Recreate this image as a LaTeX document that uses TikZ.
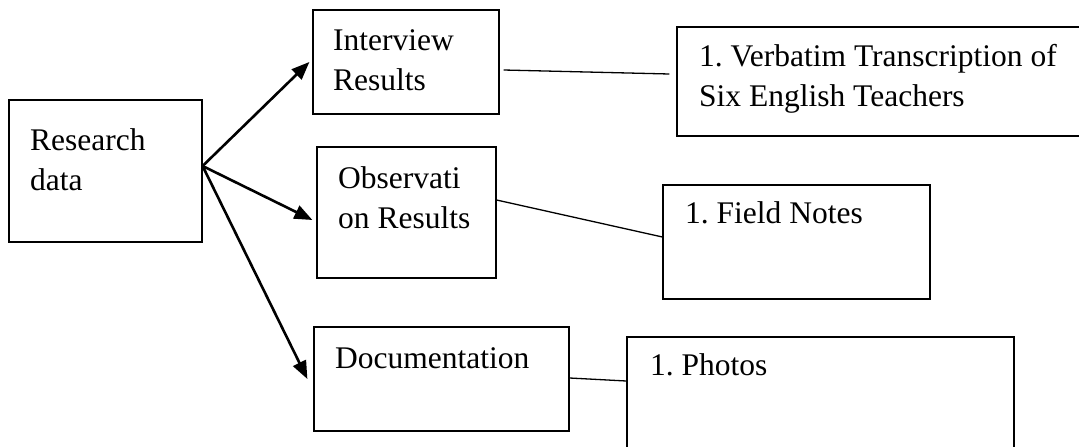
\documentclass[tikz,border=0pt]{standalone}
\usepackage{fontspec}
\setmainfont{Liberation Serif}
\usetikzlibrary{arrows.meta}
\tikzset{
  box/.style={draw=black, line width=1.2pt, inner sep=0pt, minimum width=#1},
  lbl/.style={font=\fontsize{31.5}{40}\selectfont\frenchspacing, align=left, inner sep=0pt, anchor=base west},
  arr/.style={line width=2.6pt, -{Triangle[length=18pt,width=14pt]}},
  link/.style={line width=1.3pt}
}
\begin{document}
\begin{tikzpicture}[x=1pt,y=-1pt]
\useasboundingbox (0,0) rectangle (1079,447);
% boxes
\node[box=193pt, minimum height=142pt] (res) at (105.5,171) {};
\node[box=186pt, minimum height=104pt] (int) at (406,62) {};
\node[box=179pt, minimum height=131pt] (obs) at (406.5,212.5) {};
\node[box=255pt, minimum height=104pt] (doc) at (441.5,379) {};
\node[box=408pt, minimum height=109pt] (verb) at (881,81.5) {};
\node[box=267pt, minimum height=114pt] (fn) at (796.5,242) {};
\node[box=387pt, minimum height=118pt] (pho) at (820.5,396) {};
% texts (anchored at the baseline of the last line)
\node[lbl] (tres) at (30,190) {Research\\data};
\node[lbl] (tint) at (333,90) {Interview\\Results};
\node[lbl] (tobs) at (338,228) {Observati\\on Results};
\node[lbl] (tdoc) at (335,368) {Documentation};
\node[lbl] (tverb) at (699,106) {1. Verbatim Transcription of\\Six English Teachers};
\node[lbl] (tfn) at (685,223) {1. Field Notes};
\node[lbl] (tpho) at (650,375) {1. Photos};
% arrows
\coordinate (src) at ([yshift=5pt]res.east);
\draw[arr] (src) -- ([shift={(-3pt,0pt)}]int.west);
\draw[arr] (src) -- ([shift={(-4pt,-7.5pt)}]obs.west);
\draw[arr] (src) -- ([shift={(-6pt,0pt)}]doc.west);
% links
\draw[link] ([shift={(4pt,-8pt)}]int.east) -- ([shift={(-7pt,7.5pt)}]verb.west);
\draw[link] ([yshift=12.5pt]obs.east) -- ([yshift=5pt]fn.west);
\draw[link] ([yshift=1pt]doc.east) -- ([yshift=15pt]pho.west);
\end{tikzpicture}
\end{document}
